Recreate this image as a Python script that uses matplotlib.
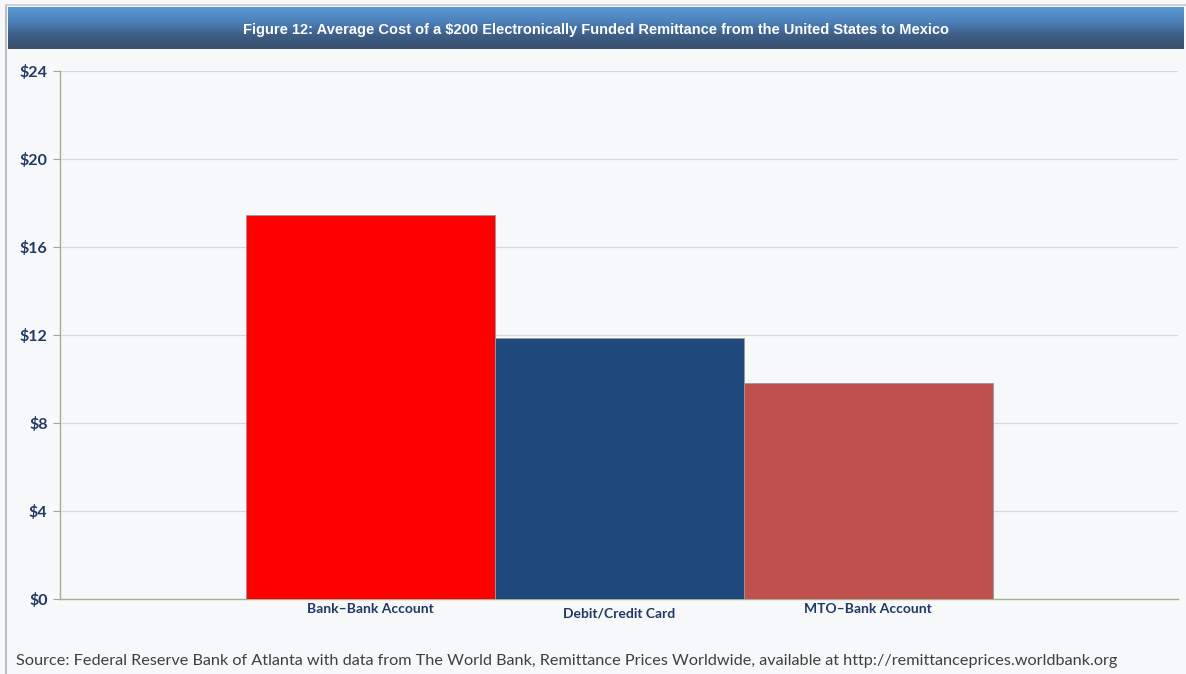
import numpy as np
import matplotlib
matplotlib.use("Agg")
import matplotlib.pyplot as plt
from matplotlib.colors import LinearSegmentedColormap

categories = ["Bank\u2013Bank Account", "Debit/Credit Card", "MTO\u2013Bank Account"]
costs = [17.45, 11.87, 9.82]
bar_colors = ["#ff0000", "#1f497d", "#c0504d"]
y_ticks = [0, 4, 8, 12, 16, 20, 24]
y_tick_labels = ["$0", "$4", "$8", "$12", "$16", "$20", "$24"]

title = "Figure 12: Average Cost of a $200 Electronically Funded Remittance from the United States to Mexico"
source = ("Source: Federal Reserve Bank of Atlanta with data from The World Bank, "
          "Remittance Prices Worldwide, available at http://remittanceprices.worldbank.org")

W, H = 1186, 674
fig = plt.figure(figsize=(W / 100, H / 100), dpi=100)
fig.patch.set_facecolor("#f7f8fa")

# page frame lines (top and left)
fig.add_artist(plt.Line2D([6 / W, 6 / W], [0, 1 - 5 / H], transform=fig.transFigure,
                          color="#bdbdbd", lw=1.5))
fig.add_artist(plt.Line2D([6 / W, 1], [1 - 5 / H, 1 - 5 / H], transform=fig.transFigure,
                          color="#d0d0d0", lw=1.5))

# gradient title banner
banner = fig.add_axes([8 / W, 1 - 49 / H, (1184 - 8) / W, 42 / H])
grad = np.linspace(0, 1, 100).reshape(-1, 1)
cmap = LinearSegmentedColormap.from_list("band", ["#5b98d2", "#4d82bb", "#3e5f88", "#3a4f6c"])
banner.imshow(grad, aspect="auto", cmap=cmap, extent=[0, 1, 0, 1])
banner.set_axis_off()
banner.text(0.5, 0.45, title, ha="center", va="center", color="white",
            fontsize=10.5, fontweight="bold",
            family=["Liberation Sans", "DejaVu Sans"])

# main chart area
x0, x1 = 60, 1178
y0, y1 = 599, 71
ax = fig.add_axes([x0 / W, 1 - y0 / H, (x1 - x0) / W, (y0 - y1) / H])
ax.set_facecolor("#f7f8fa")

x = np.arange(len(categories))
ax.bar(x, costs, width=1.0, color=bar_colors, edgecolor="#9a9a9a", linewidth=0.6, zorder=3)

step = 249
ax.set_xlim((x0 - 370) / step, (x1 - 370) / step)
ax.set_ylim(0, 24)
ax.set_yticks(y_ticks)
ax.set_yticklabels(y_tick_labels, color="#1f3864", fontsize=11.5, fontweight="bold",
                   family=["Lato", "DejaVu Sans"])
ax.grid(axis="y", color="#d9d9d9", linewidth=0.9, zorder=0)
ax.tick_params(axis="y", length=5, color="#a0a890", pad=4)
ax.tick_params(axis="x", length=0)
ax.set_xticks([])

for i, lab in enumerate(categories):
    dy = 10.5 if i == 1 else 7.5
    ax.annotate(lab, (x[i], 0), xytext=(0, -dy), textcoords="offset points",
                ha="center", va="center", color="#1f3864", fontsize=10,
                fontweight="bold", family=["Lato", "DejaVu Sans"])

for side in ("top", "right"):
    ax.spines[side].set_visible(False)
ax.spines["left"].set_color("#a6ae94")
ax.spines["bottom"].set_color("#a6ae94")
ax.spines["left"].set_linewidth(1.0)
ax.spines["bottom"].set_linewidth(1.0)

fig.text(16 / W, 1 - 661 / H, source, ha="left", va="center", color="#404040",
         fontsize=11.7, family=["Lato", "DejaVu Sans"])

fig.savefig("out.png", dpi=100, facecolor=fig.get_facecolor())
